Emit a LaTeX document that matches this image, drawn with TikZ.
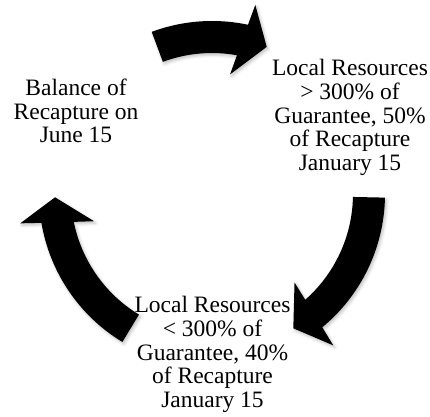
\documentclass[tikz,border=0pt]{standalone}
\usepackage{fontspec}
\setmainfont{Liberation Serif}
\usetikzlibrary{shadows.blur}
\newcommand\cycarrow[2]{%
  \fill[cyc] (#1:173) arc[start angle=#1, end angle={#2+8.4}, radius=173]
    -- ({#2+7.5}:194) -- (#2:157) -- ({#2+11.8}:121) -- ({#2+10.2}:141)
    arc[start angle={#2+10.2}, end angle=#1, radius=141] -- cycle;}
\begin{document}
\begin{tikzpicture}[x=1pt,y=1pt,
  cyc/.style={fill=black, blur shadow={shadow xshift=1.5pt, shadow yshift=-2pt, shadow blur radius=3pt, shadow opacity=25}},
  lbl/.style={align=center, font=\fontsize{23.5}{23.75}\selectfont, inner sep=0pt}]
\path[use as bounding box] (0,0) rectangle (430,416);
\begin{scope}[shift={(212,222)}]
  \cycarrow{110.4}{69.6}
  \cycarrow{-1.2}{-58.8}
  \cycarrow{238.8}{181.2}
\end{scope}
\node[lbl] (balance) at (76,305) {Balance of\\Recapture on\\June 15};
\node[lbl] (above) at (350,298.5) {Local Resources\\> 300\% of\\Guarantee, 50\%\\of Recapture\\January 15};
\node[lbl] (below) at (212.5,61.5) {Local Resources\\< 300\% of\\Guarantee, 40\%\\of Recapture\\January 15};
\end{tikzpicture}
\end{document}
